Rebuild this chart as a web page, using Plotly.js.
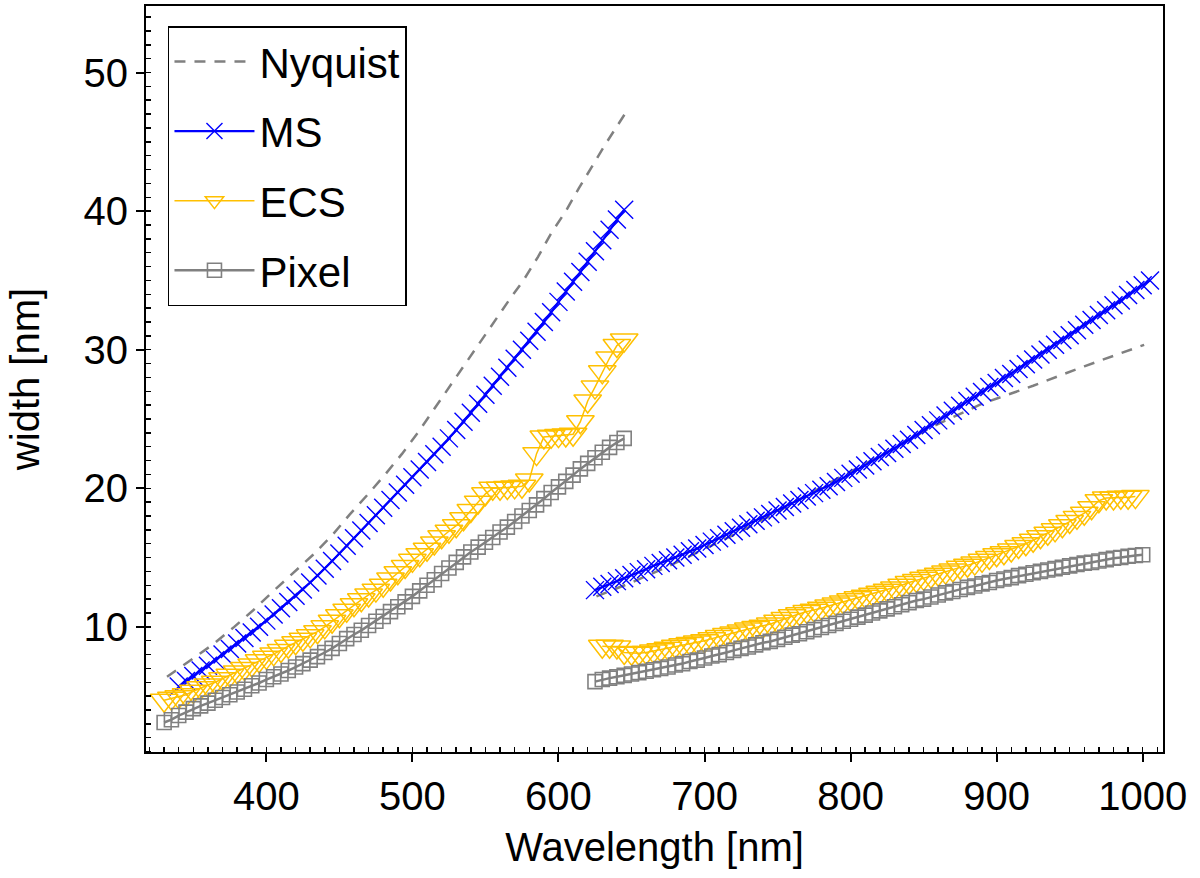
<!DOCTYPE html>
<html>
<head>
<meta charset="utf-8">
<script src="https://cdn.plot.ly/plotly-3.0.1.min.js"></script>
<style>html,body{margin:0;padding:0;background:#fff;}#chart{width:1200px;height:878px;}</style>
</head>
<body>
<div id="chart"></div>
<script>
// Wavelength grids [nm]
const wlLeft = [330,335,340,345,350,355,360,365,370,375,380,385,390,395,400,405,410,415,420,425,430,435,440,445,450,455,460,465,470,475,480,485,490,495,500,505,510,515,520,525,530,535,540,545,550,555,560,565,570,575,580,585,590,595,600,605,610,615,620,625,630,635,640,645];
const wlRight = [625,630,635,640,645,650,655,660,665,670,675,680,685,690,695,700,705,710,715,720,725,730,735,740,745,750,755,760,765,770,775,780,785,790,795,800,805,810,815,820,825,830,835,840,845,850,855,860,865,870,875,880,885,890,895,900,905,910,915,920,925,930,935,940,945,950,955,960,965,970,975,980,985,990,995,1000,1005];

// MS widths [nm]
const msLeft = [null,null,5.7,6.1,6.45,6.85,7.2,7.6,8.0,8.4,8.8,9.2,9.6,10.0,10.45,10.9,11.35,11.8,12.25,12.7,13.2,13.7,14.2,14.75,15.3,15.85,16.4,16.95,17.5,18.05,18.6,19.15,19.7,20.25,20.8,21.35,21.9,22.45,23.0,23.6,24.2,24.8,25.45,26.1,26.75,27.4,28.05,28.7,29.35,30.0,30.65,31.3,32.0,32.7,33.45,34.2,34.9,35.6,36.35,37.1,37.9,38.65,39.4,40.1];
const msRight = [12.65,12.9,13.1,13.3,13.5,13.75,13.95,14.15,14.4,14.6,14.8,15.0,15.2,15.45,15.65,15.9,16.15,16.4,16.65,16.9,17.15,17.4,17.65,17.9,18.15,18.4,18.65,18.9,19.15,19.4,19.65,19.9,20.15,20.45,20.75,21.05,21.35,21.65,21.95,22.25,22.55,22.85,23.2,23.5,23.85,24.2,24.55,24.9,25.25,25.6,25.95,26.3,26.6,26.95,27.3,27.6,27.95,28.25,28.6,28.95,29.3,29.65,30.0,30.35,30.7,31.05,31.4,31.8,32.15,32.5,32.85,33.2,33.55,33.95,34.3,34.65,35.0];

// ECS widths [nm]
const ecsLeft = [4.7,4.85,4.95,5.1,5.35,5.6,5.8,6.0,6.25,6.5,6.75,7.0,7.25,7.55,7.8,8.05,8.3,8.6,8.85,9.1,9.35,9.65,10.0,10.4,10.8,11.2,11.6,11.95,12.3,12.65,13.0,13.45,13.9,14.35,14.8,15.2,15.6,16.05,16.5,16.9,17.3,17.8,18.4,19.0,19.6,20.0,20.0,20.05,20.1,20.15,20.6,22.5,23.7,23.75,23.8,23.85,23.9,24.8,26.3,27.3,28.4,29.4,30.3,30.7];
const ecsRight = [null,8.6,8.6,8.55,8.15,8.1,8.1,8.15,8.25,8.35,8.45,8.6,8.7,8.8,8.9,9.0,9.15,9.3,9.45,9.55,9.7,9.85,9.95,10.05,10.2,10.4,10.6,10.8,10.95,11.1,11.2,11.35,11.5,11.65,11.8,11.95,12.1,12.2,12.35,12.5,12.65,12.8,13.0,13.2,13.35,13.5,13.65,13.8,13.95,14.1,14.3,14.45,14.6,14.8,15.0,15.2,15.35,15.55,15.8,16.0,16.25,16.5,16.75,17.0,17.3,17.6,17.9,18.2,18.6,19.1,19.3,19.3,19.35,19.35,19.4,null,null];

// Pixel widths [nm]
const pixelLeft = [3.1,3.3,3.6,3.85,4.1,4.3,4.5,4.7,4.9,5.1,5.3,5.5,5.75,5.95,6.2,6.4,6.6,6.85,7.1,7.35,7.6,7.85,8.15,8.45,8.8,9.15,9.45,9.75,10.1,10.4,10.75,11.1,11.45,11.8,12.2,12.6,13.0,13.4,13.85,14.25,14.65,15.05,15.4,15.75,16.1,16.45,16.85,17.2,17.6,18.0,18.4,18.8,19.25,19.7,20.1,20.5,20.95,21.4,21.8,22.2,22.6,22.95,23.3,23.6];
const pixelRight = [6.05,6.2,6.3,6.4,6.5,6.6,6.7,6.8,6.9,7.0,7.1,7.25,7.35,7.5,7.6,7.75,7.9,8.0,8.15,8.3,8.45,8.55,8.7,8.85,8.95,9.1,9.25,9.4,9.5,9.65,9.8,9.95,10.1,10.25,10.4,10.55,10.7,10.85,11.0,11.15,11.3,11.45,11.6,11.75,11.9,12.0,12.15,12.3,12.45,12.55,12.7,12.85,12.95,13.1,13.2,13.35,13.45,13.55,13.7,13.8,13.9,14.0,14.1,14.2,14.3,14.4,14.5,14.6,14.65,14.75,14.85,14.95,15.0,15.1,15.15,15.2,null];

// Nyquist widths [nm]
const nyqLeftWl = [332,348,363,378,391,404,418,432,445,457,469,481,493,505,520,535,556,567,576,586,595,605,614,624,632,646];
const nyqLeftW = [6.4,7.6,8.7,10.0,11.2,12.5,13.85,15.2,16.6,18.1,19.5,20.95,22.5,24.2,26.5,28.8,32.1,33.7,35.0,36.7,38.4,40.0,41.65,43.4,44.8,47.1];
const nyqRightWl = [626,650,675,700,725,750,775,800,825,855,890,925,960,1001];
const nyqRightW = [12.2,13.2,14.35,15.6,16.9,18.3,19.8,21.2,22.6,24.4,26.1,27.4,28.8,30.35];

const seriesNames = ['Nyquist','MS','ECS','Pixel'];
const xTickVals = [400,500,600,700,800,900,1000];
const yTickVals = [10,20,30,40,50];

const FONT = 'Liberation Sans, Arial, sans-serif';
const gap = [null];

const traces = [
  {
    name: seriesNames[0], legendgroup: 'a',
    x: nyqLeftWl.concat(gap, nyqRightWl), y: nyqLeftW.concat(gap, nyqRightW),
    mode: 'lines', connectgaps: false,
    line: {color: '#808080', width: 2.5, dash: '11px,9px'}
  },
  {
    name: seriesNames[1], legendgroup: 'b',
    x: wlLeft.concat(gap, wlRight), y: msLeft.concat(gap, msRight),
    mode: 'lines+markers', connectgaps: false,
    line: {color: '#0000ff', width: 2.2},
    marker: {symbol: 'x-thin-open', size: 18, color: '#0000ff', line: {color: '#0000ff', width: 1.4}}
  },
  {
    name: seriesNames[2], legendgroup: 'c',
    x: wlLeft.concat(gap, wlRight), y: ecsLeft.concat(gap, ecsRight),
    mode: 'lines+markers', connectgaps: false,
    line: {color: '#ffc000', width: 1.5},
    marker: {symbol: 'triangle-down-open', size: 24, color: '#ffc000', line: {color: '#ffc000', width: 1.5}}
  },
  {
    name: seriesNames[3], legendgroup: 'd',
    x: wlLeft.concat(gap, wlRight), y: pixelLeft.concat(gap, pixelRight),
    mode: 'lines+markers', connectgaps: false,
    line: {color: '#808080', width: 2.5},
    marker: {symbol: 'square-open', size: 14, color: '#808080', line: {color: '#808080', width: 1.6}}
  }
];

const axisCommon = {
  showgrid: false, zeroline: false, showline: true, linecolor: '#000', linewidth: 2,
  mirror: true, ticks: 'outside', ticklen: 8, tickwidth: 2, tickcolor: '#000',
  tickfont: {family: FONT, size: 40, color: '#000'}
};

const layout = {
  width: 1200, height: 878,
  margin: {l: 146, r: 37, t: 6, b: 126, pad: 0},
  paper_bgcolor: '#fff', plot_bgcolor: '#fff',
  font: {family: FONT, color: '#000'},
  showlegend: true,
  legend: {
    x: 0.0216, y: 0.973, xanchor: 'left', yanchor: 'top',
    bgcolor: '#fff', bordercolor: '#000', borderwidth: 1.5,
    font: {family: FONT, size: 42, color: '#000'},
    tracegroupgap: 12, itemwidth: 80
  },
  xaxis: Object.assign({}, axisCommon, {
    range: [317.6, 1013.9], tickmode: 'array', tickvals: xTickVals, ticktext: xTickVals.map(String),
    minor: {dtick: 10, tick0: 0, ticks: 'inside', ticklen: 5, tickwidth: 1.5, tickcolor: '#000', showgrid: false},
    title: {text: 'Wavelength [nm]', font: {family: FONT, size: 40, color: '#000'}, standoff: 16}
  }),
  yaxis: Object.assign({}, axisCommon, {
    range: [0.97, 54.8], tickmode: 'array', tickvals: yTickVals, ticktext: yTickVals.map(String),
    minor: {dtick: 1, tick0: 0, ticks: 'inside', ticklen: 5, tickwidth: 1.5, tickcolor: '#000', showgrid: false},
    title: {text: 'width [nm]', font: {family: FONT, size: 40, color: '#000'}, standoff: 32}
  })
};

Plotly.newPlot('chart', traces, layout, {staticPlot: true, displayModeBar: false});
</script>
</body>
</html>
